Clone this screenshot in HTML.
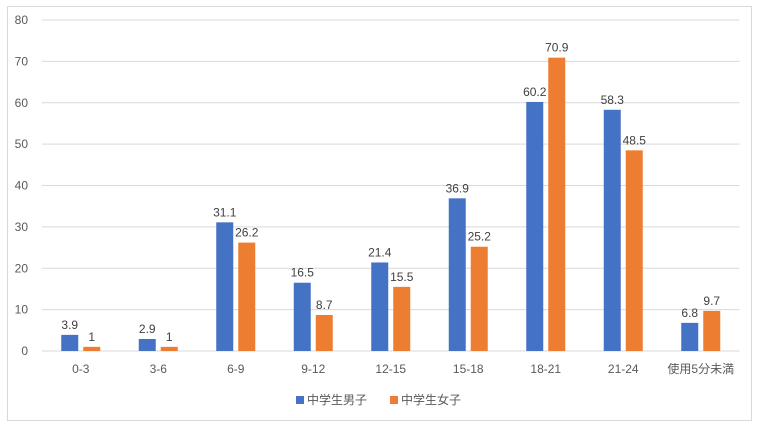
<!DOCTYPE html>
<html><head><meta charset="utf-8"><style>
body{margin:0;background:#fff;}
svg{display:block;font-family:"Liberation Sans","Noto Sans CJK JP",sans-serif;}
</style></head><body>
<svg id="chart" width="758" height="427">
<rect x="7.5" y="6.5" width="744" height="414" fill="#fff" stroke="#d9d9d9"/>
<g id="grid"></g><g id="bars"></g><g id="labels"></g>
<g>
<rect x="296" y="396" width="8" height="8" fill="#4472c4"/>
<text x="307" y="404" font-size="12" fill="#595959">中学生男子</text>
<rect x="390" y="396" width="8" height="8" fill="#ed7d31"/>
<text x="401" y="404" font-size="12" fill="#595959">中学生女子</text>
</g>
</svg>
<script>
const categories=["0-3","3-6","6-9","9-12","12-15","15-18","18-21","21-24","使用5分未満"];
const boys=[3.9,2.9,31.1,16.5,21.4,36.9,60.2,58.3,6.8];
const girls=[1,1,26.2,8.7,15.5,25.2,70.9,48.5,9.7];
const ticks=[0,10,20,30,40,50,60,70,80];
const NS="http://www.w3.org/2000/svg";
const x0=42,x1=739.5,y0=351,yTop=20,max=80;
const step=(x1-x0)/categories.length;
const y=v=>y0-(v/max)*(y0-yTop);
const cx=i=>x0+step*(i+0.5);
function mk(t,a,p,txt){const e=document.createElementNS(NS,t);for(const k in a)e.setAttribute(k,a[k]);if(txt!==undefined)e.textContent=txt;p.appendChild(e);return e;}
const g=document.getElementById('grid'),b=document.getElementById('bars'),l=document.getElementById('labels');
ticks.forEach(t=>{
 const ln=mk('line',{x1:x0,x2:x1,y1:y(t),y2:y(t),stroke:'#d9d9d9'},g);
 
 
 const tx=mk('text',{x:28,y:y(t)+4,'font-size':12,fill:'#595959','text-anchor':'end'},g,t);
 
 
});
const bw=17,gap=5;
categories.forEach((c,i)=>{
 const bx=cx(i)-gap/2-bw, ox=cx(i)+gap/2;
 const r1=mk('rect',{x:bx,y:y(boys[i]),width:bw,height:y0-y(boys[i]),fill:'#4472c4'},b);
 
 
 const r2=mk('rect',{x:ox,y:y(girls[i]),width:bw,height:y0-y(girls[i]),fill:'#ed7d31'},b);
 
 
 const t1=mk('text',{x:bx+bw/2,y:y(boys[i])-6,'font-size':12,fill:'#404040','text-anchor':'middle'},l,boys[i]);
 
 
 const t2=mk('text',{x:ox+bw/2,y:y(girls[i])-6,'font-size':12,fill:'#404040','text-anchor':'middle'},l,girls[i]);
 
 
 const xl=mk('text',{x:cx(i),y:373,'font-size':12,fill:'#595959','text-anchor':'middle'},l,c);
 
 
});
</script>
</body></html>
